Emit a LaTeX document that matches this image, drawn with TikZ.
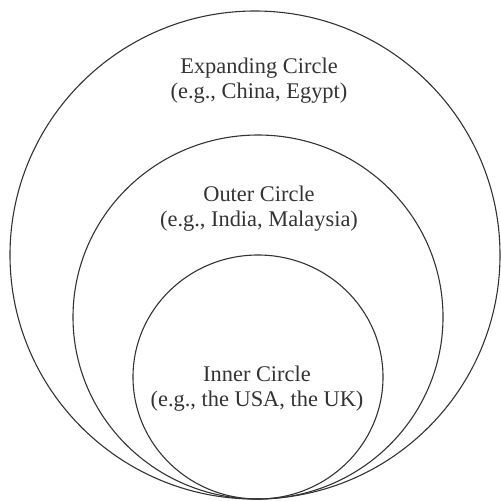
\documentclass[tikz,border=0pt]{standalone}
\usepackage{fontspec}
\setmainfont{Liberation Serif}
\usepackage{tikz}
\usetikzlibrary{positioning}

\begin{document}
\begin{tikzpicture}[x=0.5pt, y=0.5pt,
                    every node/.style = {text=black!80, align=center, font=\fontsize{11.2}{12.4}\selectfont},
                    ring/.style = {draw=black!80, line width=0.55pt}]
            \useasboundingbox (0,0) rectangle (501,500);
            \begin{scope}
                \draw [ring] (255,245) ellipse [x radius=245, y radius=244];
                \draw [ring] (258,183) ellipse [x radius=185, y radius=182];
                \draw [ring] (258,123) ellipse [x radius=125, y radius=122];

                \node (expanding) at (259,419) {Expanding Circle\\(e.g., China, Egypt)};
                \node (outer)     at (259,291) {Outer Circle\\(e.g., India, Malaysia)};
                \node (inner)     at (257,111) {Inner Circle\\(e.g., the USA, the UK)};
            \end{scope}
            \end{tikzpicture}
\end{document}
